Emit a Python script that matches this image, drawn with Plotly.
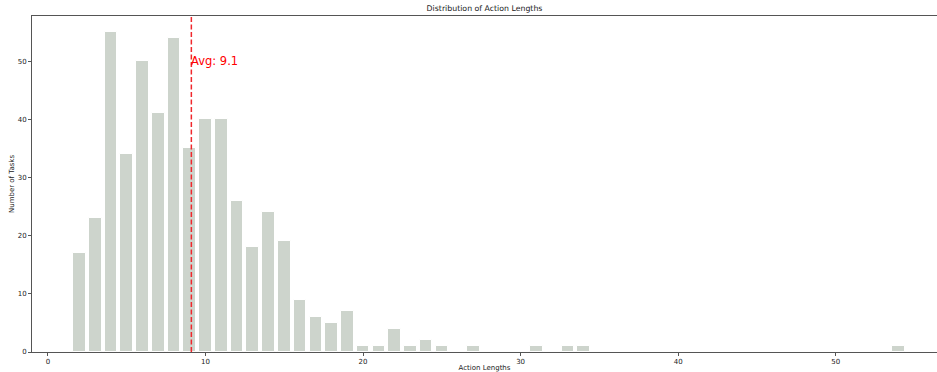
import plotly.graph_objects as go

# Histogram of action lengths: length -> number of tasks
lengths = [2, 3, 4, 5, 6, 7, 8, 9, 10, 11, 12, 13, 14, 15, 16, 17, 18, 19,
           20, 21, 22, 23, 24, 25, 27, 31, 33, 34, 54]
counts = [17, 23, 55, 34, 50, 41, 54, 35, 40, 40, 26, 18, 24, 19, 9, 6, 5, 7,
          1, 1, 4, 1, 2, 1, 1, 1, 1, 1, 1]
avg_length = 9.1
x_ticks = [0, 10, 20, 30, 40, 50]
y_ticks = [0, 10, 20, 30, 40, 50]

FONT = "DejaVu Sans"
AXIS_COLOR = "#555555"

fig = go.Figure()
fig.add_trace(go.Bar(
    x=lengths, y=counts, width=0.8,
    marker=dict(color="#CDD4CC", line=dict(color="white", width=1)),
    hoverinfo="x+y", showlegend=False,
))

# average marker
fig.add_vline(x=avg_length, line=dict(color="#F0282D", width=1.5, dash="5px,2.5px"))
fig.add_annotation(x=avg_length, y=50, text=f"Avg: {avg_length}", showarrow=False,
                   xanchor="left", yanchor="middle", xshift=-2,
                   font=dict(color="red", size=11.5, family=FONT))

fig.update_layout(
    width=937, height=372,
    margin=dict(l=32, r=0, t=16, b=20),
    paper_bgcolor="white", plot_bgcolor="white",
    font=dict(family=FONT, size=7, color="#222222"),
    title=dict(text="Distribution of Action Lengths", x=0.5, xref="paper",
               y=1, yref="container", yanchor="top", pad=dict(t=6),
               font=dict(size=7.8, family=FONT, color="#222222")),
    bargap=0,
)
fig.update_xaxes(
    range=[-1.015, 56.43], tickvals=x_ticks, showgrid=False, zeroline=False,
    showline=True, linecolor=AXIS_COLOR, linewidth=1, mirror=True,
    ticks="outside", ticklen=3, tickcolor=AXIS_COLOR, tickfont=dict(size=7),
    title=dict(text="Action Lengths", font=dict(size=7), standoff=2),
)
fig.update_yaxes(
    range=[0, 57.75], tickvals=y_ticks, showgrid=False, zeroline=False,
    showline=True, linecolor=AXIS_COLOR, linewidth=1,
    ticks="outside", ticklen=3, tickcolor=AXIS_COLOR, tickfont=dict(size=7),
    title=dict(text="Number of Tasks", font=dict(size=7), standoff=2),
)

fig.write_html("out.html")
